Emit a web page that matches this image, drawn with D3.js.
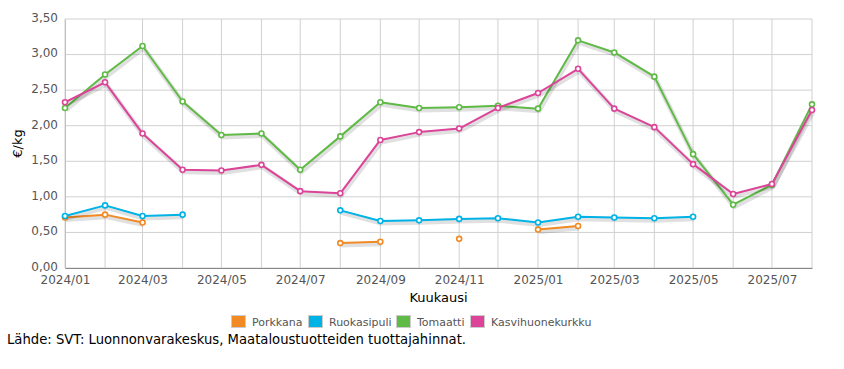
<!DOCTYPE html>
<html>
<head>
<meta charset="utf-8">
<script src="https://cdn.jsdelivr.net/npm/d3@7"></script>
<style>
  body { margin: 0; background: #fff; }
  svg { display: block; font-family: "DejaVu Sans", Verdana, sans-serif; }
</style>
</head>
<body>
<div id="chart"></div>
<script>
const months = ["2024/01","2024/02","2024/03","2024/04","2024/05","2024/06","2024/07","2024/08","2024/09","2024/10",
  "2024/11","2024/12","2025/01","2025/02","2025/03","2025/04","2025/05","2025/06","2025/07","2025/08"];

const porkkana = [0.71, 0.75, 0.64, null, null, null, null, 0.35, 0.37, null,
  0.41, null, 0.54, 0.59, null, null, null, null, null, null];
const ruokasipuli = [0.73, 0.88, 0.73, 0.75, null, null, null, 0.81, 0.66, 0.67,
  0.69, 0.70, 0.64, 0.72, 0.71, 0.70, 0.72, null, null, null];
const tomaatti = [2.25, 2.72, 3.12, 2.34, 1.87, 1.89, 1.38, 1.85, 2.33, 2.25,
  2.26, 2.28, 2.24, 3.20, 3.03, 2.69, 1.60, 0.89, 1.17, 2.30];
const kurkku = [2.33, 2.61, 1.89, 1.38, 1.37, 1.45, 1.08, 1.05, 1.80, 1.91,
  1.96, 2.25, 2.46, 2.80, 2.24, 1.98, 1.46, 1.04, 1.18, 2.22];

const seriesNames = ["Porkkana", "Ruokasipuli", "Tomaatti", "Kasvihuonekurkku"];
const seriesColors = ["#f28a24", "#00b3e6", "#5fba46", "#dc4499"];
const yTicks = [0, 0.5, 1, 1.5, 2, 2.5, 3, 3.5];

const width = 844, height = 369;
const margin = { top: 19, right: 32, bottom: 101, left: 65 };

const parse = d3.timeParse("%Y/%m");
const dates = months.map(parse);
const series = [porkkana, ruokasipuli, tomaatti, kurkku].map((vals, i) => ({
  name: seriesNames[i],
  color: seriesColors[i],
  values: vals.map((v, j) => ({ date: dates[j], value: v }))
}));

const svg = d3.select("#chart").append("svg")
  .attr("width", width)
  .attr("height", height);

const x = d3.scaleTime()
  .domain(d3.extent(dates))
  .range([margin.left, width - margin.right]);
const y = d3.scaleLinear()
  .domain([0, 3.5])
  .range([height - margin.bottom, margin.top]);

const fmtY = v => d3.format(".2f")(v).replace(".", ",");

// gridlines
svg.append("g")
  .selectAll("line")
  .data(yTicks)
  .join("line")
  .attr("x1", margin.left).attr("x2", width - margin.right)
  .attr("y1", d => y(d)).attr("y2", d => y(d))
  .attr("stroke", "#d0d0d0");

svg.append("g")
  .selectAll("line")
  .data(dates)
  .join("line")
  .attr("x1", d => x(d)).attr("x2", d => x(d))
  .attr("y1", margin.top).attr("y2", height - margin.bottom)
  .attr("stroke", "#d0d0d0");

// axes
const yAxis = d3.axisLeft(y).tickValues(yTicks).tickFormat(fmtY).tickSize(0).tickPadding(7);
const gy = svg.append("g")
  .attr("transform", `translate(${margin.left},0)`)
  .call(yAxis);
gy.select(".domain").attr("stroke", "#c0c0c0");
gy.selectAll("text")
  .attr("dy", "0.2em")
  .attr("font-size", 12).attr("fill", "#555").attr("font-family", "DejaVu Sans, Verdana, sans-serif");

const xAxis = d3.axisBottom(x)
  .tickValues(dates.filter((d, i) => i % 2 === 0))
  .tickFormat(d3.timeFormat("%Y/%m"))
  .tickSize(0).tickPadding(7);
const gx = svg.append("g")
  .attr("transform", `translate(0,${height - margin.bottom})`)
  .call(xAxis);
gx.select(".domain").attr("stroke", "#888");
gx.selectAll("text").attr("font-size", 12).attr("fill", "#555").attr("font-family", "DejaVu Sans, Verdana, sans-serif");

// axis titles
svg.append("text")
  .attr("transform", `translate(22,${(margin.top + height - margin.bottom) / 2}) rotate(-90)`)
  .attr("text-anchor", "middle")
  .attr("font-size", 13)
  .attr("fill", "#000")
  .text("€/kg");

svg.append("text")
  .attr("x", (margin.left + width - margin.right) / 2)
  .attr("y", 302)
  .attr("text-anchor", "middle")
  .attr("font-size", 13)
  .attr("fill", "#000")
  .text("Kuukausi");

// lines
const line = d3.line()
  .defined(d => d.value !== null)
  .x(d => x(d.date))
  .y(d => y(d.value));

const sg = svg.append("g")
  .selectAll("g")
  .data(series)
  .join("g");

sg.append("path")
  .attr("d", d => line(d.values))
  .attr("fill", "none")
  .attr("stroke", "#000")
  .attr("stroke-opacity", 0.12)
  .attr("stroke-width", 5)
  .attr("stroke-linejoin", "round")
  .attr("transform", "translate(1,2)");

sg.append("path")
  .attr("d", d => line(d.values))
  .attr("fill", "none")
  .attr("stroke", d => d.color)
  .attr("stroke-width", 2)
  .attr("stroke-linejoin", "round");

sg.selectAll("circle")
  .data(d => d.values.filter(v => v.value !== null).map(v => ({ ...v, color: d.color })))
  .join("circle")
  .attr("cx", d => x(d.date))
  .attr("cy", d => y(d.value))
  .attr("r", 2.5)
  .attr("fill", "#fff")
  .attr("stroke", d => d.color)
  .attr("stroke-width", 1.6);

// legend
const legendX = [231, 308, 396, 470];
const lg = svg.append("g")
  .selectAll("g")
  .data(series)
  .join("g")
  .attr("transform", (d, i) => `translate(${legendX[i]},315)`);

lg.append("rect")
  .attr("x", 0.5).attr("y", 0.5)
  .attr("width", 14).attr("height", 12)
  .attr("fill", d => d.color)
  .attr("stroke", "#ccc");

lg.append("text")
  .attr("x", 21)
  .attr("y", 10.5)
  .attr("font-size", 11)
  .attr("fill", "#555")
  .text(d => d.name);

svg.append("text")
  .attr("x", 7)
  .attr("y", 344)
  .attr("font-size", 13.2)
  .attr("fill", "#000")
  .text("Lähde: SVT: Luonnonvarakeskus, Maataloustuotteiden tuottajahinnat.");
</script>
</body>
</html>
